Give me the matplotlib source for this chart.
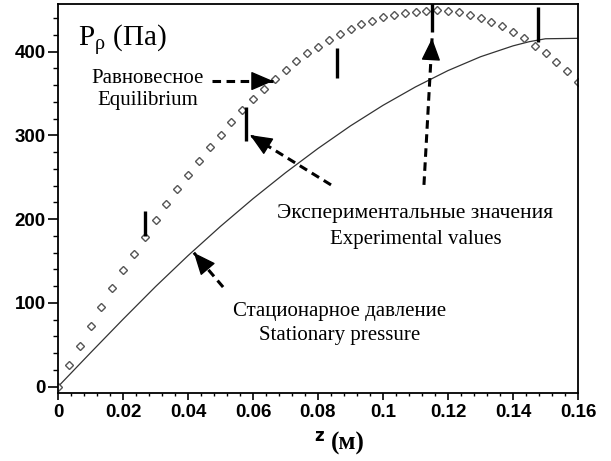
import matplotlib
matplotlib.use("Agg")
import matplotlib.pyplot as plt
from matplotlib.ticker import MultipleLocator, FixedLocator, FixedFormatter

plt.rcParams['mathtext.fontset'] = 'custom'
plt.rcParams['mathtext.rm'] = 'Liberation Serif'

# equilibrium pressure (diamonds)
z_eq = [0, 0.0033, 0.0067, 0.01, 0.0133, 0.0167, 0.02, 0.0233, 0.0267, 0.03,
        0.0333, 0.0367, 0.04, 0.0433, 0.0467, 0.05, 0.0533, 0.0567, 0.06, 0.0633,
        0.0667, 0.07, 0.0733, 0.0767, 0.08, 0.0833, 0.0867, 0.09, 0.0933, 0.0967,
        0.10, 0.1033, 0.1067, 0.11, 0.1133, 0.1167, 0.12, 0.1233, 0.1267, 0.13,
        0.1333, 0.1367, 0.14, 0.1433, 0.1467, 0.15, 0.1533, 0.1567, 0.16]
p_eq = [0, 26, 49, 72, 95, 118, 139, 159, 179, 199,
        218, 236, 253, 270, 286, 301, 316, 330, 343, 356,
        367, 378, 389, 398, 406, 414, 421, 427, 433, 437,
        441, 444, 446, 448, 449, 450, 449, 447, 444, 440,
        436, 431, 424, 416, 407, 398, 388, 377, 364]

# stationary pressure (solid line)
z_st = [0, 0.01, 0.02, 0.03, 0.04, 0.05, 0.06, 0.07, 0.08, 0.09, 0.10,
        0.11, 0.12, 0.13, 0.14, 0.145, 0.15, 0.16]
p_st = [0, 40.5, 80.5, 119.5, 156.5, 191.5, 224.5, 255.5, 284.5, 311.5, 336,
        358, 377.5, 394, 407, 412, 415.5, 416]

# experimental values (vertical bars)
z_exp = [0.0268, 0.0578, 0.0858, 0.1151, 0.1477]
p_low = [180, 294, 369, 424, 412]
p_high = [210, 334, 405, 462, 454]

xticks = [0, 0.02, 0.04, 0.06, 0.08, 0.10, 0.12, 0.14, 0.16]
xlabels = ['0', '0.02', '0.04', '0.06', '0.08', '0.1', '0.12', '0.14', '0.16']
yticks = [0, 100, 200, 300, 400]

fig = plt.figure(figsize=(6.11, 4.61), dpi=100)
ax = fig.add_axes([58/611, 68/461, 520/611, 389/461])

ax.plot(z_st, p_st, color='#333333', lw=0.9)
ax.plot(z_eq, p_eq, ls='none', marker='D', ms=4.0, mfc='white', mec='#555555', mew=1.0)
ax.vlines(z_exp, p_low, p_high, color='black', lw=2.4)

ax.set_xlim(0, 0.16)
ax.set_ylim(-7.5, 457)

ax.xaxis.set_major_locator(FixedLocator(xticks))
ax.xaxis.set_major_formatter(FixedFormatter(xlabels))
ax.xaxis.set_minor_locator(MultipleLocator(0.004))
ax.yaxis.set_major_locator(FixedLocator(yticks))
ax.yaxis.set_minor_locator(MultipleLocator(20))
for lab in ax.get_xticklabels() + ax.get_yticklabels():
    lab.set_family('Liberation Sans')
    lab.set_fontweight('bold')
    lab.set_fontsize(13.5)
ax.tick_params(axis='x', which='major', length=5, width=1.2, pad=3)
ax.tick_params(axis='x', which='minor', length=2.5, width=1.0)
ax.tick_params(axis='y', which='major', length=7, width=1.2, pad=2)
ax.tick_params(axis='y', which='minor', length=3.5, width=1.0)
for s in ax.spines.values():
    s.set_linewidth(1.3)

serif = 'Liberation Serif'
ax.text(0.0060, 406, '$\\mathrm{P_{ρ}}$ (Па)', family=serif, fontsize=21, va='baseline')
ax.text(0.0277, 362.6, 'Равновесное', family=serif, fontsize=15, ha='center', va='baseline')
ax.text(0.0277, 336, 'Equilibrium', family=serif, fontsize=15, ha='center', va='baseline')
ax.text(0.1098, 201.4, 'Экспериментальные значения', family=serif, fontsize=15.5,
        ha='center', va='baseline')
ax.text(0.1102, 170.4, 'Experimental values', family=serif, fontsize=15,
        ha='center', va='baseline')
ax.text(0.0865, 84.4, 'Стационарное давление', family=serif, fontsize=15,
        ha='center', va='baseline')
ax.text(0.0868, 55.8, 'Stationary pressure', family=serif, fontsize=15,
        ha='center', va='baseline')

# dashed pointers with solid heads
arrows = [((0.0474, 365), (0.0662, 365)),
          ((0.0840, 241), (0.0591, 300.5)),
          ((0.1126, 241), (0.1151, 416)),
          ((0.0508, 119), (0.0418, 160))]
for tail, tip in arrows:
    ax.plot([tail[0], tip[0]], [tail[1], tip[1]], color='black', lw=2.2,
            ls=(0, (2.8, 1.8)), solid_capstyle='butt')
    near = (tip[0] + 0.02 * (tail[0] - tip[0]), tip[1] + 0.02 * (tail[1] - tip[1]))
    ax.annotate('', xy=tip, xytext=near,
                arrowprops=dict(arrowstyle='-|>,head_length=1.4,head_width=0.6',
                                lw=1.0, color='black', shrinkA=0, shrinkB=0))

fig.text(319/611, 20/461, 'z', family='DejaVu Sans', fontweight='bold', fontsize=12,
         ha='center', va='baseline')
fig.text(331/611, 11/461, '(м)', family=serif, fontweight='bold', fontsize=18,
         ha='left', va='baseline')

fig.savefig('out.png', dpi=100)
